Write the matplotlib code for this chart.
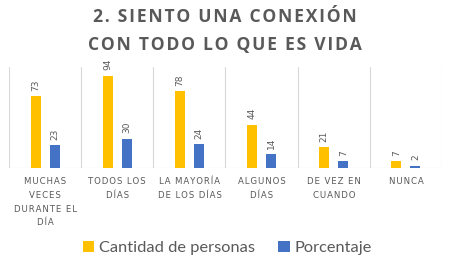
import matplotlib
matplotlib.use("Agg")
import matplotlib.pyplot as plt
import numpy as np

categories = ["MUCHAS\nVECES\nDURANTE EL\nDÍA", "TODOS LOS\nDÍAS", "LA MAYORÍA\nDE LOS DÍAS",
              "ALGUNOS\nDÍAS", "DE VEZ EN\nCUANDO", "NUNCA"]
cantidad = [73, 94, 78, 44, 21, 7]
porcentaje = [23, 30, 24, 14, 7, 2]
series_names = ["Cantidad de personas", "Porcentaje"]
title = "2. SIENTO UNA CONEXIÓN\nCON TODO LO QUE ES VIDA"

W, H = 449, 266
fig = plt.figure(figsize=(W / 100, H / 100), dpi=100)
ax = fig.add_axes([9 / W, (H - 168) / H, (442 - 9) / W, (168 - 67) / H])

x = np.arange(len(categories))
off = 0.132
bw = 0.139
yellow = "#FFC000"
blue = "#4472C4"
gray = "#595959"

b1 = ax.bar(x - off, cantidad, bw, color=yellow, label=series_names[0], zorder=3)
b2 = ax.bar(x + off, porcentaje, bw, color=blue, label=series_names[1], zorder=3)

for bars in (b1, b2):
    for r in bars:
        ax.annotate(f"{int(r.get_height())}", (r.get_x() + r.get_width() / 2, r.get_height()),
                    xytext=(0, 4), textcoords="offset points", rotation=90,
                    ha="center", va="bottom", fontsize=6.5, color=gray,
                    family="DejaVu Sans", annotation_clip=False)

ax.set_xlim(-0.5, len(categories) - 0.5)
ax.set_ylim(0, 102.9)
for b in np.arange(-0.5, len(categories), 1.0):
    ax.axvline(b, color="#D9D9D9", lw=0.8, zorder=1)
ax.axhline(0, color="#D9D9D9", lw=0.8, zorder=2)
for s in ax.spines.values():
    s.set_visible(False)
ax.set_yticks([])
ax.set_xticks([])

def spaced(s, sep="\u200a"):
    return "\n".join(sep.join(line) for line in s.split("\n"))

for i, c in enumerate(categories):
    fig.text((9 + 72.2 * (i + 0.5)) / W, (H - 177) / H, spaced(c), ha="center", va="top",
             fontsize=6.2, color=gray, family="DejaVu Sans", linespacing=1.68)

fig.text(225 / W, 1 - 8 / H, spaced(title), ha="center", va="top", fontsize=12.6,
         fontweight="bold", color=gray, family=["Open Sans", "DejaVu Sans"], linespacing=1.68)

leg = fig.legend(handles=[b1, b2], loc="center", bbox_to_anchor=(227.5 / W, 1 - 248 / H),
                 ncol=2, frameon=False, handlelength=0.7, handleheight=0.7,
                 handletextpad=0.3, columnspacing=1.4, prop={"family": "Lato", "size": 11.8})
for t in leg.get_texts():
    t.set_color(gray)

fig.savefig("out.png", dpi=100)
